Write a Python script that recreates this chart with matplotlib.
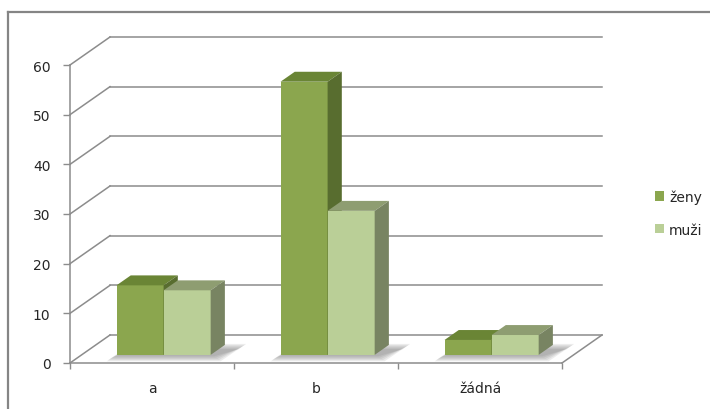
import matplotlib
matplotlib.use('Agg')
import matplotlib.pyplot as plt
from matplotlib.patches import Polygon, Patch
from matplotlib.lines import Line2D

# survey answers, women vs. men
categories = ['a', 'b', 'žádná']
zeny = [14, 55, 3]
muzi = [13, 29, 4]
series_names = ['ženy', 'muži']
yticks = [0, 10, 20, 30, 40, 50, 60]

# face colours: front, top, side
ZENY_COLORS = ('#8ba64e', '#6a8535', '#586d2f')
MUZI_COLORS = ('#bacf97', '#8e9d71', '#788462')
GRID = '#8c8c8c'
TEXT = '#262626'

# depth of the whole wall, in data units (x: categories, y: values)
WALL_DX = 0.244
WALL_DY = 5.64
# bars sit in the middle of the floor
BAR_F0 = 0.29
BAR_F1 = 0.645
BAR_W = 0.287

plt.rcParams['font.family'] = ['DejaVu Sans']
plt.rcParams['font.size'] = 10

fig = plt.figure(figsize=(7.1, 4.1), dpi=100)
# outer chart frame (only top and left edge fall inside the image)
fig.add_artist(Line2D([8 / 710, 8 / 710], [0, 1 - 13 / 410], color='#858585', lw=1.6))
fig.add_artist(Line2D([8 / 710, 1], [1 - 13 / 410, 1 - 13 / 410], color='#858585', lw=1.6))

ax = fig.add_axes([70 / 710, 46 / 410, 492 / 710, 298 / 410])
ax.set_xlim(-0.5, len(categories) - 0.5)
ax.set_ylim(0, 60)
ax.patch.set_visible(False)

x0, x1 = -0.5, len(categories) - 0.5

# back wall gridlines + their diagonals to the front axis
for v in yticks:
    ax.plot([x0, x0 + WALL_DX], [v, v + WALL_DY], color=GRID, lw=1.1, clip_on=False, zorder=1)
    ax.plot([x0 + WALL_DX, x1 + WALL_DX], [v + WALL_DY, v + WALL_DY], color=GRID, lw=1.1,
            clip_on=False, zorder=1)
# right edge of the floor
ax.plot([x1, x1 + WALL_DX], [0, WALL_DY], color=GRID, lw=1.1, clip_on=False, zorder=1)

dx0, dy0 = BAR_F0 * WALL_DX, BAR_F0 * WALL_DY
ddx = (BAR_F1 - BAR_F0) * WALL_DX
ddy = (BAR_F1 - BAR_F0) * WALL_DY


def draw_bar(xl, value, colors):
    """front face via ax.bar, top and side faces as polygons"""
    left = xl + dx0
    right = left + BAR_W
    base = dy0
    top = base + value
    ax.bar(left, value, width=BAR_W, bottom=base, align='edge', color=colors[0],
           lw=0, zorder=4, clip_on=False)
    ax.add_patch(Polygon([(left, top), (right, top), (right + ddx, top + ddy),
                          (left + ddx, top + ddy)], closed=True, fc=colors[1], lw=0,
                         zorder=4, clip_on=False))
    ax.add_patch(Polygon([(right, base), (right + ddx, base + ddy), (right + ddx, top + ddy),
                          (right, top)], closed=True, fc=colors[2], lw=0, zorder=4,
                         clip_on=False))


def draw_shadow(xl, xr):
    # soft floor shadow, thrown a little to the right of the bars
    for k in range(5):
        g = 0.010 * k
        gy = 0.25 * k
        pts = [(xl + dx0 - 0.02 - g, dy0 - 0.3 - gy),
               (xr + dx0 + 0.02 + g, dy0 - 0.3 - gy),
               (xr + dx0 + ddx + 0.09 + g, dy0 + ddy - 0.8 + gy),
               (xl + dx0 + ddx + 0.04 - g, dy0 + ddy - 0.8 + gy)]
        ax.add_patch(Polygon(pts, closed=True, fc='#555555', alpha=0.11, lw=0,
                             zorder=3, clip_on=False))


for i, cat in enumerate(categories):
    xl = i - BAR_W
    draw_shadow(xl, xl + 2 * BAR_W)
    draw_bar(xl, zeny[i], ZENY_COLORS)
    draw_bar(xl + BAR_W, muzi[i], MUZI_COLORS)

# axes: left and bottom spines are the front edges
for side in ('top', 'right'):
    ax.spines[side].set_visible(False)
for side in ('left', 'bottom'):
    ax.spines[side].set_color(GRID)
    ax.spines[side].set_linewidth(1.1)
    ax.spines[side].set_zorder(2)

ax.set_yticks(yticks)
ax.tick_params(axis='y', direction='out', length=5, width=1, color=GRID, pad=9,
               labelcolor=TEXT, labelsize=10)
ax.set_xticks(range(len(categories)))
ax.set_xticklabels(categories)
ax.set_xticks([x0 + k for k in range(len(categories) + 1)], minor=True)
ax.tick_params(axis='x', which='major', length=0, pad=13, labelcolor=TEXT, labelsize=10)
ax.tick_params(axis='x', which='minor', direction='out', length=4.5, width=1, color=GRID)

handles = [Patch(fc=ZENY_COLORS[0], ec='none'), Patch(fc=MUZI_COLORS[0], ec='none')]
fig.legend(handles, series_names, loc='center left', bbox_to_anchor=(642 / 710, 1 - 214 / 410),
           frameon=False, handlelength=0.65, handleheight=0.65, handletextpad=0.4,
           labelspacing=1.35, fontsize=10, labelcolor=TEXT)

fig.savefig('out.png', dpi=100)
